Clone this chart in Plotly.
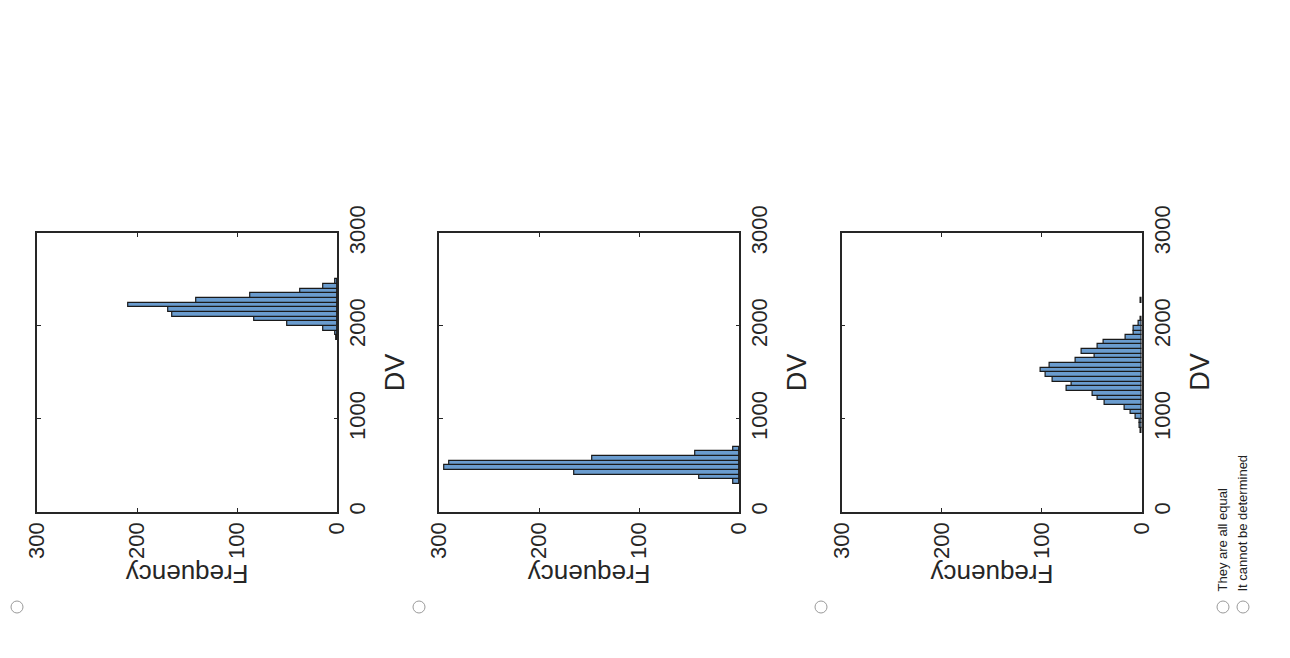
import plotly.graph_objects as go

# ---------------- data ----------------
# DV bin centres (bin width 50) and frequencies
panel1_dv = [1875, 1925, 1975, 2025, 2075, 2125, 2175, 2225, 2275, 2325, 2375, 2425, 2475]
panel1_freq = [1, 2, 14, 50, 83, 165, 169, 209, 141, 87, 37, 14, 2]

panel2_dv = [325, 375, 425, 475, 525, 575, 625, 675]
panel2_freq = [6, 40, 165, 295, 290, 147, 44, 6]

panel3_dv = [875, 925, 975, 1025, 1075, 1125, 1175, 1225, 1275, 1325, 1375, 1425,
             1475, 1525, 1575, 1625, 1675, 1725, 1775, 1825, 1875, 1925, 1975,
             2025, 2075, 2275]
panel3_freq = [1, 2, 2, 6, 11, 17, 37, 44, 49, 75, 70, 89,
               96, 101, 92, 66, 47, 60, 44, 38, 16, 8, 8,
               3, 1, 1]

bin_width = 50
dv_ticks = [0, 1000, 2000, 3000]
freq_ticks = [0, 100, 200, 300]
option_labels = ["They are all equal", "It cannot be determined"]

# ---------------- layout helpers ----------------
OFF = 8                      # default page body margin
W, H = 1290 - OFF, 658 - OFF
FONT = "Liberation Sans, Arial, Helvetica, sans-serif"
BAR_COLOR = "#6a9ccf"
EDGE = "#1a1a1a"
AX = "#262626"

panels_px = [(37.3, 337.3), (439.3, 739.3), (841.7, 1141.7)]
top_px, bot_px = 233.0, 511.7

def px_x(x):
    return (x - OFF) / W

def px_y(y):
    return 1 - (y - OFF) / H

fig = go.Figure()
datasets = [(panel1_dv, panel1_freq), (panel2_dv, panel2_freq), (panel3_dv, panel3_freq)]
for i, (dv, fr) in enumerate(datasets):
    sfx = "" if i == 0 else str(i + 1)
    fig.add_trace(go.Bar(
        y=dv, x=fr, orientation="h", width=bin_width,
        marker=dict(color=BAR_COLOR, line=dict(color=EDGE, width=1.2)),
        xaxis="x" + sfx, yaxis="y" + sfx, showlegend=False,
    ))

layout = dict(
    width=W, height=H, autosize=False,
    margin=dict(l=0, r=0, t=0, b=0, pad=0, autoexpand=False),
    paper_bgcolor="white", plot_bgcolor="white",
    bargap=0, showlegend=False,
    font=dict(family=FONT, color="#262626"),
    annotations=[], shapes=[],
)

for i, (x0, x1) in enumerate(panels_px):
    sfx = "" if i == 0 else str(i + 1)
    layout["xaxis" + sfx] = dict(
        domain=[px_x(x0), px_x(x1)], anchor="y" + sfx, automargin=False,
        range=[300, 0], tickvals=freq_ticks, ticktext=[str(v) for v in freq_ticks],
        tickangle=-90, ticks="inside", ticklen=4, tickwidth=1.2, tickcolor=AX,
        showline=True, linecolor=AX, linewidth=1.5, mirror="ticks",
        showgrid=False, zeroline=False,
        tickfont=dict(size=22, family=FONT, color="#262626"),
    )
    layout["yaxis" + sfx] = dict(
        domain=[px_y(bot_px), px_y(top_px)], anchor="x" + sfx, side="right",
        automargin=False,
        range=[0, 3000], tickvals=dv_ticks, ticktext=[str(v) for v in dv_ticks],
        tickangle=-90, ticks="inside", ticklen=4, tickwidth=1.2, tickcolor=AX,
        showline=True, linecolor=AX, linewidth=1.5, mirror="ticks",
        showgrid=False, zeroline=False,
        tickfont=dict(size=22, family=FONT, color="#262626"),
    )
    cx = (x0 + x1) / 2
    layout["annotations"].append(dict(
        text="Frequency", xref="paper", yref="paper",
        x=px_x(cx), y=px_y(574), xanchor="center", yanchor="middle",
        textangle=180, showarrow=False,
        font=dict(size=26, family=FONT, color="#262626"),
    ))
    layout["annotations"].append(dict(
        text="DV", xref="paper", yref="paper",
        x=px_x(x1 + 58), y=px_y(372), xanchor="center", yanchor="middle",
        textangle=-90, showarrow=False,
        font=dict(size=27, family=FONT, color="#262626"),
    ))

# radio buttons
circles = [(17, 607), (419, 607), (821, 607), (1223, 607), (1243, 607)]
for cx, cy in circles:
    r = 6
    layout["shapes"].append(dict(
        type="circle", xref="paper", yref="paper",
        x0=px_x(cx - r), x1=px_x(cx + r), y0=px_y(cy + r), y1=px_y(cy - r),
        line=dict(color="#9a9a9a", width=1), fillcolor="white",
    ))
for lbl, cx in zip(option_labels, [1222, 1242]):
    layout["annotations"].append(dict(
        text=lbl, xref="paper", yref="paper",
        x=px_x(cx), y=px_y(594), xanchor="center", yanchor="bottom",
        textangle=-90, showarrow=False,
        font=dict(size=13, family=FONT, color="#222222"),
    ))

# right page border line
layout["shapes"].append(dict(
    type="line", xref="paper", yref="paper",
    x0=px_x(1287), x1=px_x(1287), y0=px_y(0), y1=px_y(620),
    line=dict(color="#c8c8c8", width=2),
))

fig.update_layout(**layout)
fig.write_html("out.html")
